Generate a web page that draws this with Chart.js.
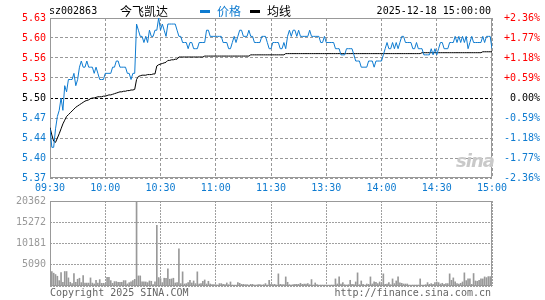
<!DOCTYPE html>
<html>
<head>
<meta charset="utf-8">
<script src="https://cdn.jsdelivr.net/npm/chart.js@4/dist/chart.umd.min.js"></script>
<style>
body { margin: 0; width: 545px; height: 300px; background: #fff; position: relative; overflow: hidden;
       font-family: "DejaVu Sans Mono", monospace; font-size: 10px; }
canvas { position: absolute; left: 0; }
#priceChart { top: 0; }
#volChart { top: 190px; }
.t { position: absolute; white-space: pre; line-height: 12px; }
.cjk { font-family: "Noto Sans CJK SC", sans-serif; font-size: 12px; }
.bar { position: absolute; width: 10px; height: 3px; }
</style>
</head>
<body>
<canvas id="priceChart" width="545" height="200"></canvas>
<canvas id="volChart" width="545" height="110"></canvas>

<div class="t" style="left:49px;top:5px;">sz002863</div>
<div class="t cjk" style="left:120px;top:5px;">今飞凯达</div>
<div class="bar" style="left:200px;top:10px;background:#0e7bd0;"></div>
<div class="t cjk" style="left:217px;top:5px;color:#0e7bd0;">价格</div>
<div class="bar" style="left:250px;top:10px;background:#000;"></div>
<div class="t cjk" style="left:267px;top:5px;">均线</div>
<div class="t" style="right:54px;top:5px;">2025-12-18 15:00:00</div>
<div class="t" style="left:456px;top:150px;font:italic bold 18px 'DejaVu Sans';color:#c9c9c9;letter-spacing:-1px;">sina</div>
<div class="t" style="left:50px;top:287px;color:#666;">Copyright 2025 SINA.COM</div>
<div class="t" style="right:54px;top:287px;color:#666;">http://finance.sina.com.cn</div>

<script>
const tickLabels = ['09:30', '10:00', '10:30', '11:00', '11:30', '13:30', '14:00', '14:30', '15:00'];
const priceTicks = ['5.37', '5.40', '5.44', '5.47', '5.50', '5.53', '5.56', '5.60', '5.63'];
const pctTicks = ['-2.36%', '-1.77%', '-1.18%', '-0.59%', ' 0.00%', '+0.59%', '+1.18%', '+1.77%', '+2.36%'];
const volTicks = ['', '5090', '10181', '15272', '20362'];
const prevClose = 5.50;
const pctRange = 2.36;
const volMax = 20362;

// one value per minute, 09:30 .. 11:30, 13:01 .. 15:00
const price = [
  5.45, 5.42, 5.42, 5.45, 5.47, 5.48, 5.50, 5.48, 5.52, 5.51,
  5.53, 5.53, 5.53, 5.54, 5.52, 5.53, 5.55, 5.56, 5.55, 5.55,
  5.56, 5.55, 5.55, 5.55, 5.54, 5.55, 5.54, 5.53, 5.53, 5.53,
  5.54, 5.54, 5.54, 5.54, 5.55, 5.55, 5.56, 5.56, 5.55, 5.55,
  5.55, 5.55, 5.54, 5.54, 5.53, 5.54, 5.54, 5.62, 5.61, 5.60,
  5.60, 5.59, 5.60, 5.59, 5.61, 5.60, 5.60, 5.61, 5.61, 5.63,
  5.61, 5.62, 5.61, 5.60, 5.62, 5.62, 5.62, 5.62, 5.62, 5.61,
  5.60, 5.60, 5.59, 5.59, 5.59, 5.58, 5.59, 5.59, 5.58, 5.58,
  5.58, 5.59, 5.59, 5.59, 5.59, 5.61, 5.61, 5.60, 5.60, 5.60,
  5.60, 5.60, 5.60, 5.60, 5.59, 5.59, 5.59, 5.58, 5.58, 5.59,
  5.60, 5.59, 5.60, 5.61, 5.61, 5.60, 5.60, 5.60, 5.61, 5.60,
  5.60, 5.59, 5.59, 5.59, 5.59, 5.60, 5.60, 5.60, 5.59, 5.58,
  5.58, 5.59, 5.59, 5.59, 5.59, 5.58, 5.58, 5.59, 5.58, 5.60,
  5.61, 5.60, 5.61, 5.61, 5.60, 5.61, 5.60, 5.60, 5.60, 5.60,
  5.60, 5.61, 5.60, 5.60, 5.60, 5.60, 5.60, 5.59, 5.59, 5.60,
  5.59, 5.59, 5.59, 5.59, 5.59, 5.58, 5.58, 5.58, 5.57, 5.57,
  5.57, 5.58, 5.58, 5.58, 5.58, 5.57, 5.56, 5.56, 5.56, 5.55,
  5.55, 5.55, 5.55, 5.56, 5.56, 5.56, 5.55, 5.56, 5.56, 5.56,
  5.56, 5.57, 5.58, 5.59, 5.58, 5.58, 5.59, 5.58, 5.59, 5.58,
  5.59, 5.60, 5.60, 5.59, 5.59, 5.59, 5.59, 5.58, 5.58, 5.59,
  5.58, 5.58, 5.58, 5.57, 5.57, 5.57, 5.57, 5.58, 5.57, 5.58,
  5.57, 5.58, 5.59, 5.59, 5.58, 5.58, 5.58, 5.59, 5.59, 5.59,
  5.60, 5.59, 5.60, 5.59, 5.60, 5.59, 5.60, 5.58, 5.59, 5.60,
  5.59, 5.59, 5.59, 5.59, 5.59, 5.60, 5.59, 5.60, 5.60, 5.60,
  5.58
];

const avgLine = [
  5.452, 5.440, 5.430, 5.428, 5.435, 5.442, 5.450, 5.458, 5.464, 5.470,
  5.473, 5.476, 5.479, 5.482, 5.485, 5.487, 5.489, 5.491, 5.493, 5.495,
  5.496, 5.497, 5.499, 5.500, 5.500, 5.501, 5.502, 5.502, 5.502, 5.503,
  5.503, 5.504, 5.505, 5.505, 5.506, 5.507, 5.508, 5.509, 5.510, 5.510,
  5.511, 5.511, 5.512, 5.512, 5.513, 5.513, 5.514, 5.530, 5.535, 5.536,
  5.537, 5.537, 5.537, 5.538, 5.538, 5.538, 5.539, 5.539, 5.552, 5.554,
  5.555, 5.556, 5.557, 5.558, 5.561, 5.561, 5.562, 5.562, 5.563, 5.563,
  5.5665, 5.5665, 5.5665, 5.5665, 5.5665, 5.5665, 5.5665, 5.5665, 5.5665, 5.5665,
  5.5665, 5.5665, 5.5665, 5.5665, 5.568, 5.568, 5.568, 5.568, 5.568, 5.568,
  5.568, 5.568, 5.568, 5.568, 5.568, 5.568, 5.568, 5.568, 5.568, 5.568,
  5.568, 5.568, 5.568, 5.568, 5.568, 5.568, 5.568, 5.568, 5.568, 5.570,
  5.570, 5.570, 5.570, 5.570, 5.570, 5.570, 5.570, 5.570, 5.570, 5.570,
  5.570, 5.570, 5.570, 5.570, 5.570, 5.570, 5.570, 5.570, 5.572, 5.572,
  5.572, 5.572, 5.572, 5.572, 5.572, 5.572, 5.572, 5.572, 5.572, 5.572,
  5.572, 5.572, 5.572, 5.572, 5.572, 5.572, 5.572, 5.572, 5.572, 5.572,
  5.572, 5.572, 5.572, 5.572, 5.572, 5.572, 5.572, 5.572, 5.572, 5.572,
  5.572, 5.572, 5.572, 5.572, 5.572, 5.572, 5.572, 5.572, 5.572, 5.572,
  5.572, 5.572, 5.572, 5.572, 5.572, 5.572, 5.572, 5.572, 5.572, 5.572,
  5.572, 5.572, 5.572, 5.572, 5.572, 5.572, 5.572, 5.572, 5.572, 5.572,
  5.572, 5.572, 5.572, 5.572, 5.572, 5.572, 5.572, 5.572, 5.572, 5.572,
  5.572, 5.572, 5.5735, 5.5735, 5.5735, 5.5735, 5.5735, 5.5735, 5.5735, 5.5735,
  5.5735, 5.5735, 5.5735, 5.5735, 5.5735, 5.5735, 5.5735, 5.5735, 5.5735, 5.5735,
  5.5735, 5.5735, 5.5735, 5.5735, 5.5735, 5.5735, 5.5735, 5.5735, 5.5735, 5.5735,
  5.5735, 5.5735, 5.5735, 5.5735, 5.5735, 5.575, 5.575, 5.575, 5.575, 5.575,
  5.575
];

const volume = [
  5090, 3470, 3070, 2750, 2340, 1290, 3230, 890, 3470, 3470,
  1940, 890, 600, 2990, 890, 1620, 1860, 810, 2500, 700,
  700, 700, 1940, 700, 500, 1370, 700, 1530, 650, 650,
  600, 2100, 2100, 1290, 650, 1050, 1050, 890, 890, 890,
  1290, 1290, 500, 800, 1000, 1290, 1600, 20362, 2420, 2420,
  970, 970, 970, 810, 1210, 1130, 320, 970, 14540, 2020,
  1780, 810, 1860, 1860, 4120, 1620, 1700, 1860, 730, 810,
  8890, 570, 3390, 480, 570, 810, 1370, 730, 1210, 570,
  3390, 480, 570, 1130, 1450, 480, 1130, 480, 320, 320,
  320, 240, 570, 570, 400, 320, 730, 320, 970, 240,
  240, 240, 810, 650, 400, 400, 320, 320, 240, 400,
  400, 240, 240, 320, 320, 240, 320, 570, 240, 1370,
  400, 320, 400, 240, 2910, 400, 320, 320, 2180, 890,
  320, 240, 320, 400, 400, 400, 650, 400, 480, 480,
  570, 320, 1540, 240, 730, 320, 240, 240, 240, 240,
  240, 240, 240, 240, 240, 1700, 480, 2180, 480, 810,
  320, 240, 320, 1370, 400, 320, 970, 3150, 320, 1210,
  400, 240, 480, 400, 2180, 480, 970, 890, 570, 970,
  480, 2910, 400, 480, 810, 320, 1700, 570, 1210, 2180,
  730, 650, 480, 480, 480, 240, 240, 240, 240, 240,
  240, 1700, 240, 240, 320, 810, 400, 570, 400, 810,
  970, 810, 480, 650, 400, 570, 570, 2910, 1370, 1940,
  970, 570, 480, 650, 970, 3150, 1290, 1700, 1700, 400,
  2990, 1210, 1130, 1370, 1700, 1700, 2180, 2000, 2250, 2250,
  2500
];

const BLUE = '#0e7bd0';
const RED = '#ff0000';
const GRID = '#a0a0a0';
const DOTS = [2, 1];
const DASH = [3, 2];
Chart.defaults.font.family = '"DejaVu Sans Mono", monospace';
Chart.defaults.font.size = 10;
Chart.defaults.animation = false;

const yMin = prevClose * (1 - pctRange / 100);
const yMax = prevClose * (1 + pctRange / 100);
const sideColor = i => i > 4 ? RED : (i === 4 ? '#000' : BLUE);
const setPriceTicks = s => { s.ticks = priceTicks.map((_, i) => ({ value: yMin + i * (yMax - yMin) / 8 })); };
const setTimeTicks = s => { s.ticks = tickLabels.map((_, i) => ({ value: i * 30 })); };

const frame = {
  id: 'frame',
  beforeDatasetsDraw(chart) {
    const a = chart.chartArea, ctx = chart.ctx;
    ctx.save();
    ctx.strokeStyle = '#999';
    ctx.lineWidth = 1;
    ctx.strokeRect(Math.round(a.left) + 0.5, Math.round(a.top) + 0.5,
                   Math.round(a.right - a.left) - 1, Math.round(a.bottom - a.top) - 1);
    ctx.restore();
  }
};

new Chart(document.getElementById('priceChart'), {
  type: 'line',
  data: {
    datasets: [
      { data: price.map((v, i) => ({ x: i, y: v })), borderColor: BLUE, borderWidth: 1, pointRadius: 0, tension: 0, yAxisID: 'y' },
      { data: avgLine.map((v, i) => ({ x: i, y: v })), borderColor: '#000', borderWidth: 1, pointRadius: 0, tension: 0, yAxisID: 'y' }
    ]
  },
  options: {
    responsive: false,
    layout: { padding: { top: 18, left: 0, right: 0, bottom: 0 } },
    plugins: { legend: { display: false }, tooltip: { enabled: false } },
    scales: {
      x: {
        type: 'linear', min: 0, max: 240,
        afterBuildTicks: setTimeTicks,
        afterFit: s => { s.height = 22; },
        ticks: { callback: (v, i) => tickLabels[i], color: BLUE, maxRotation: 0, autoSkip: false, padding: 4 },
        grid: { color: '#999', lineWidth: 1, drawTicks: false },
        border: { display: false, dash: DASH }
      },
      y: {
        position: 'left', min: yMin, max: yMax,
        afterBuildTicks: setPriceTicks,
        afterFit: s => { s.width = 50; },
        ticks: { callback: (v, i) => priceTicks[i], color: c => sideColor(c.index), padding: 4 },
        grid: { color: c => c.index === 4 ? '#000' : '#999', lineWidth: 1, drawTicks: false },
        border: { display: false, dash: DASH }
      },
      y2: {
        position: 'right', min: yMin, max: yMax,
        afterBuildTicks: setPriceTicks,
        afterFit: s => { s.width = 53; },
        ticks: { callback: (v, i) => pctTicks[i], color: c => sideColor(c.index), padding: 4 },
        grid: { display: false },
        border: { display: false }
      }
    }
  },
  plugins: [frame]
});

new Chart(document.getElementById('volChart'), {
  type: 'bar',
  data: {
    datasets: [
      { data: volume.map((v, i) => ({ x: i, y: v })), backgroundColor: '#999', borderWidth: 0, barThickness: 1 }
    ]
  },
  options: {
    responsive: false,
    layout: { padding: { top: 11, left: 0, right: 53, bottom: 0 } },
    plugins: { legend: { display: false }, tooltip: { enabled: false } },
    scales: {
      x: {
        type: 'linear', min: 0, max: 240, offset: false,
        afterBuildTicks: setTimeTicks,
        afterFit: s => { s.height = 14; },
        ticks: { display: false },
        grid: { color: GRID, lineWidth: 1, drawTicks: false, offset: false },
        border: { display: false, dash: DOTS }
      },
      y: {
        min: 0, max: volMax,
        afterBuildTicks: s => { s.ticks = volTicks.map((_, i) => ({ value: i * volMax / 4 })); },
        afterFit: s => { s.width = 50; },
        ticks: { callback: (v, i) => volTicks[i], color: '#999', padding: 4 },
        grid: { color: GRID, lineWidth: 1, drawTicks: false },
        border: { display: false, dash: DOTS }
      }
    }
  },
  plugins: [frame]
});
</script>
</body>
</html>
